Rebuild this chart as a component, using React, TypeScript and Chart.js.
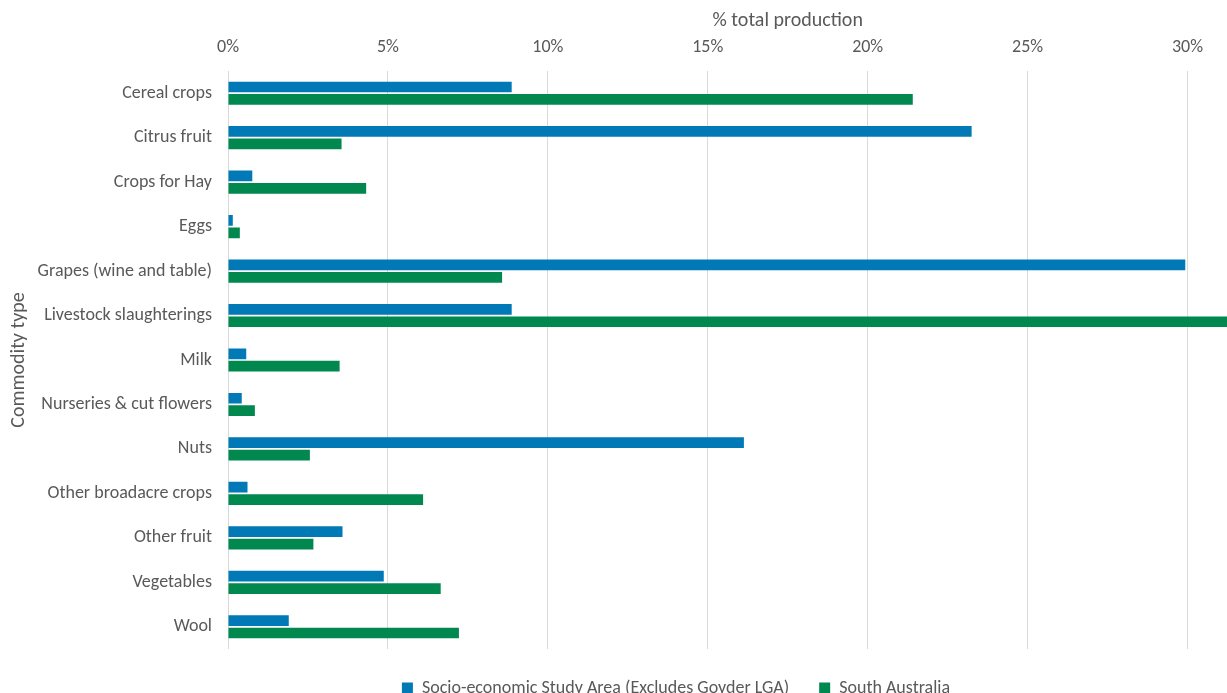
import React, { useEffect, useRef } from "react";
import { Chart, registerables } from "chart.js";

Chart.register(...registerables);

const categories = [
  "Cereal crops",
  "Citrus fruit",
  "Crops for Hay",
  "Eggs",
  "Grapes (wine and table)",
  "Livestock slaughterings",
  "Milk",
  "Nurseries & cut flowers",
  "Nuts",
  "Other broadacre crops",
  "Other fruit",
  "Vegetables",
  "Wool",
];

const studyAreaValues = [8.87, 23.25, 0.76, 0.15, 29.93, 8.87, 0.57, 0.43, 16.13, 0.61, 3.58, 4.87, 1.9];
const southAustraliaValues = [21.41, 3.55, 4.32, 0.37, 8.57, 33.0, 3.49, 0.84, 2.56, 6.1, 2.67, 6.65, 7.22];

const seriesNames = ["Socio-economic Study Area (Excludes Goyder LGA)", "South Australia"];
const xAxisTitle = "% total production";
const yAxisTitle = "Commodity type";

const FONT = "Carlito, Lato, 'Open Sans', sans-serif";
const TEXT = "#595959";

export default function App() {
  const ref = useRef<HTMLCanvasElement | null>(null);

  useEffect(() => {
    if (!ref.current) return;
    const chart = new Chart(ref.current, {
      type: "bar",
      data: {
        labels: categories,
        datasets: [
          {
            label: seriesNames[0],
            data: studyAreaValues,
            backgroundColor: "#0079B6",
            borderWidth: 0,
            categoryPercentage: 0.56,
            barPercentage: 0.86,
          },
          {
            label: seriesNames[1],
            data: southAustraliaValues,
            backgroundColor: "#00884F",
            borderWidth: 0,
            categoryPercentage: 0.56,
            barPercentage: 0.86,
          },
        ],
      },
      options: {
        indexAxis: "y",
        animation: false,
        responsive: true,
        maintainAspectRatio: false,
        layout: { padding: { top: 0, left: 0, right: 24, bottom: 0 } },
        plugins: {
          legend: {
            position: "bottom",
            labels: {
              color: TEXT,
              font: { family: FONT, size: 18 },
              boxWidth: 11,
              boxHeight: 11,
              padding: 30,
            },
          },
          tooltip: { enabled: false },
        },
        scales: {
          x: {
            position: "top",
            min: 0,
            max: 35,
            ticks: {
              stepSize: 5,
              color: TEXT,
              font: { family: FONT, size: 18 },
              padding: 13,
              callback: (v: any) => `${v}%`,
            },
            grid: { color: "#D9D9D9", drawTicks: false, lineWidth: 1 },
            border: { display: false },
            title: {
              display: true,
              text: xAxisTitle,
              color: TEXT,
              font: { family: FONT, size: 20 },
              padding: { top: 9, bottom: 4 },
            },
            afterFit: (scale: any) => {
              scale.height = 71;
            },
          },
          y: {
            ticks: {
              color: TEXT,
              font: { family: FONT, size: 18 },
              padding: 16,
            },
            grid: { display: false, drawTicks: false },
            border: { display: false },
            title: {
              display: true,
              text: yAxisTitle,
              color: TEXT,
              font: { family: FONT, size: 20 },
              padding: { top: 7, bottom: 0 },
            },
            afterFit: (scale: any) => {
              scale.width = 228;
            },
          },
        },
      },
    });
    return () => chart.destroy();
  }, []);

  return (
    <div
      style={{
        position: "fixed",
        left: 0,
        top: 0,
        width: 1227,
        height: 693,
        overflow: "hidden",
        background: "#fff",
      }}
    >
      <div style={{ width: 1376, height: 707, position: "relative" }}>
        <canvas ref={ref} />
      </div>
    </div>
  );
}
